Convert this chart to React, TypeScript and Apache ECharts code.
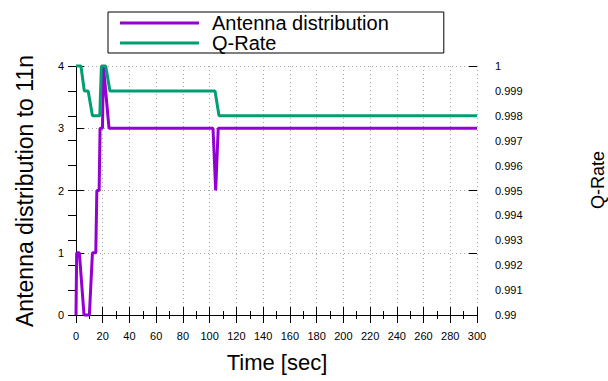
import React, { useEffect, useRef } from "react";
import * as echarts from "echarts";

const antennaTime = [0, 0.5, 2.5, 6, 10, 12.3, 14.8, 15.6, 17.3, 18, 19.8, 20.5, 24.7, 102.5, 104.5, 106.4, 300];
const antennaValues = [0, 1, 1, 0, 0, 1, 1, 2, 2, 3, 3, 4, 3, 3, 2, 3, 3];

const qTime = [0, 3.7, 6.2, 9.1, 12.3, 17.8, 19, 22.2, 25.4, 104, 107, 300];
const qValues = [1, 1, 0.999, 0.999, 0.998, 0.998, 1, 1, 0.999, 0.999, 0.998, 0.998];

const FONT = "Liberation Sans, Arial, Helvetica, sans-serif";

export default function App() {
  const ref = useRef<HTMLDivElement>(null);
  useEffect(() => {
    document.body.style.margin = "0";
    const chart = echarts.init(ref.current!, null, { renderer: "svg" });
    const tickStyle = { color: "#000", width: 1 };
    const option = {
      animation: false,
      backgroundColor: "#fff",
      textStyle: { fontFamily: FONT },
      grid: { left: 76, right: 131, top: 66, bottom: 66, containLabel: false },
      legend: {
        left: 108,
        top: 12,
        orient: "vertical",
        data: ["Antenna distribution", "Q-Rate"],
        icon: "rect",
        itemWidth: 79,
        itemHeight: 3,
        itemGap: 0,
        borderColor: "#000",
        borderWidth: 1,
        borderRadius: 0,
        padding: [1, 55, 0, 12],
        textStyle: { fontSize: 20, fontFamily: FONT, color: "#000", lineHeight: 20, padding: [0, 0, 0, 8] },
      },
      xAxis: [
        {
          type: "value",
          min: 0,
          max: 300,
          interval: 20,
          position: "bottom",
          axisLine: { show: true, lineStyle: { color: "#000", width: 1 } },
          axisTick: { show: true, inside: true, length: 8, lineStyle: tickStyle },
          minorTick: { show: true, splitNumber: 2, length: 4, lineStyle: tickStyle },
          axisLabel: { fontSize: 11, color: "#000", margin: 15, fontFamily: FONT },
          splitLine: { show: true, lineStyle: { color: "#aaa", type: [1, 3], width: 1 } },
        },
        {
          type: "value",
          min: 0,
          max: 300,
          interval: 20,
          position: "top",
          axisLine: { show: true, lineStyle: { color: "#000", width: 1 } },
          axisTick: { show: true, inside: true, length: 8, lineStyle: tickStyle },
          minorTick: { show: true, splitNumber: 2, length: 4, lineStyle: tickStyle },
          axisLabel: { show: false },
          splitLine: { show: false },
        },
      ],
      yAxis: [
        {
          type: "value",
          min: 0,
          max: 4,
          interval: 1,
          position: "left",
          axisLine: { show: true, lineStyle: { color: "#000", width: 1 } },
          axisTick: { show: true, inside: true, length: 8, lineStyle: tickStyle },
          axisLabel: { fontSize: 11, color: "#000", margin: 12, fontFamily: FONT },
          splitLine: { show: true, lineStyle: { color: "#aaa", type: [1, 3], width: 1 } },
        },
        {
          type: "value",
          min: 0.99,
          max: 1,
          splitNumber: 10,
          interval: 0.001,
          position: "right",
          axisLine: { show: true, lineStyle: { color: "#000", width: 1 } },
          axisTick: { show: true, inside: true, length: 8, lineStyle: tickStyle },
          axisLabel: {
            fontSize: 11,
            color: "#000",
            margin: 18,
            align: "left",
            fontFamily: FONT,
            formatter: (v: number) => String(parseFloat(v.toFixed(3))),
          },
          splitLine: { show: false },
        },
        {
          type: "value",
          min: 0,
          max: 4,
          interval: 1,
          position: "right",
          offset: 0,
          axisLine: { show: false },
          axisTick: { show: true, inside: true, length: 8, lineStyle: tickStyle },
          axisLabel: { show: false },
          splitLine: { show: false },
        },
      ],
      graphic: [
        {
          type: "text",
          x: 25,
          y: 191,
          rotation: Math.PI / 2,
          style: {
            text: "Antenna distribution to 11n",
            fontSize: 23,
            fontFamily: FONT,
            fill: "#000",
            align: "center",
            verticalAlign: "middle",
          },
        },
        {
          type: "text",
          x: 598,
          y: 180,
          rotation: Math.PI / 2,
          style: {
            text: "Q-Rate",
            fontSize: 18,
            fontFamily: FONT,
            fill: "#000",
            align: "center",
            verticalAlign: "middle",
          },
        },
        {
          type: "text",
          x: 277,
          y: 362,
          style: {
            text: "Time [sec]",
            fontSize: 22,
            fontFamily: FONT,
            fill: "#000",
            align: "center",
            verticalAlign: "middle",
          },
        },
      ],
      series: [
        {
          name: "Antenna distribution",
          type: "line",
          xAxisIndex: 0,
          yAxisIndex: 0,
          data: antennaTime.map((t, i) => [t, antennaValues[i]]),
          showSymbol: false,
          symbol: "none",
          clip: false,
          lineStyle: { color: "#9400d3", width: 3 },
          itemStyle: { color: "#9400d3" },
        },
        {
          name: "Q-Rate",
          type: "line",
          xAxisIndex: 0,
          yAxisIndex: 1,
          data: qTime.map((t, i) => [t, qValues[i]]),
          showSymbol: false,
          symbol: "none",
          clip: false,
          lineStyle: { color: "#009e73", width: 3 },
          itemStyle: { color: "#009e73" },
        },
      ],
    };
    chart.setOption(option as any);
    return () => chart.dispose();
  }, []);
  return (
    <div
      ref={ref}
      style={{ position: "fixed", left: 0, top: 0, width: 608, height: 381, background: "#fff" }}
    />
  );
}
